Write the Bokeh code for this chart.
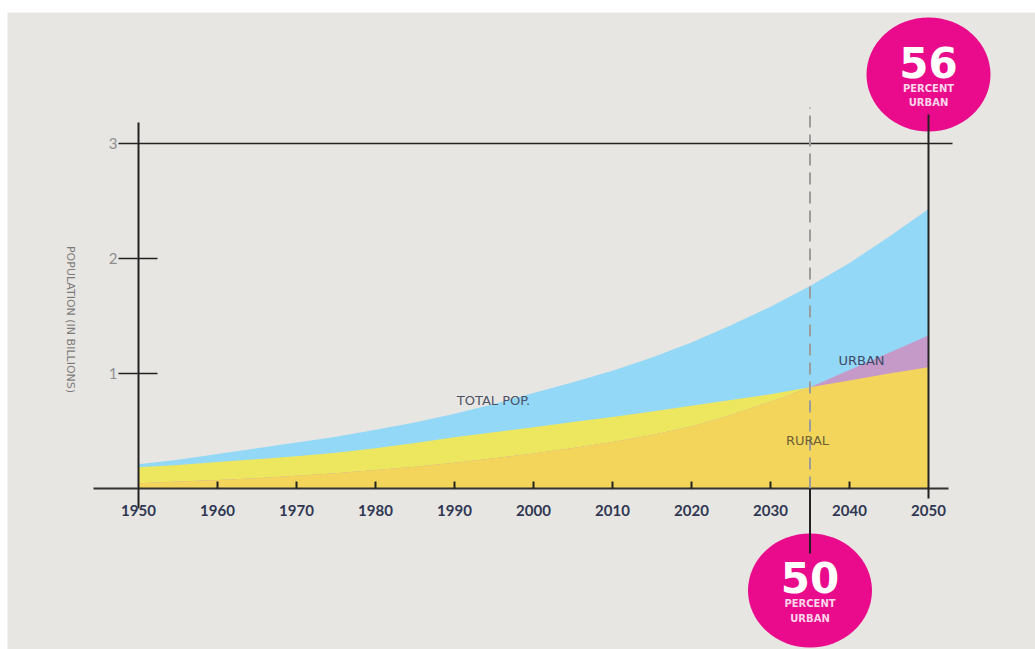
import math
from bokeh.plotting import figure
from bokeh.models import ColumnDataSource
from bokeh.core.properties import value
from bokeh.embed import file_html
from bokeh.resources import INLINE

# ---- data (billions) ----
years = [1950, 1955, 1960, 1965, 1970, 1975, 1980, 1985, 1990, 1995, 2000,
         2005, 2010, 2015, 2020, 2025, 2030, 2035, 2040, 2045, 2050]
total = [0.21, 0.25, 0.30, 0.35, 0.40, 0.45, 0.51, 0.575, 0.65, 0.735, 0.83,
         0.925, 1.025, 1.14, 1.27, 1.42, 1.58, 1.76, 1.96, 2.19, 2.43]
rural = [0.185, 0.205, 0.23, 0.255, 0.28, 0.31, 0.35, 0.395, 0.445, 0.49, 0.533,
         0.578, 0.622, 0.67, 0.72, 0.77, 0.82, 0.88, 0.94, 1.00, 1.055]
urban = [0.045, 0.06, 0.075, 0.09, 0.11, 0.133, 0.16, 0.19, 0.225, 0.262, 0.305,
         0.352, 0.405, 0.465, 0.54, 0.64, 0.755, 0.88, 1.03, 1.18, 1.33]

x_ticks = [1950, 1960, 1970, 1980, 1990, 2000, 2010, 2020, 2030, 2040, 2050]
x_tick_labels = [str(t) for t in x_ticks]
y_ticks = [1, 2, 3]
y_tick_labels = ["1", "2", "3"]

marker_years = [2035, 2050]
marker_pct = ["50", "56"]

# ---- colours ----
BG = "#e8e6e2"
BLUE = "#93d8f6"
YELLOW = "#ede75f"
ORANGE = "#f3d55c"
PINK = "#c69ac8"
MAGENTA = "#ea0a8c"
INK = "#222222"

overlap = [min(u, r) for u, r in zip(urban, rural)]
src = ColumnDataSource(dict(year=years, total=total, rural=rural, urban=urban,
                            overlap=overlap, zero=[0] * len(years)))

# page mapping: 1950 -> x=138, 2050 -> x=928 ; value 0 -> y=488, 115 px / billion
KX = 7.9
KY = 115.0
x0 = 1950 - (138 - 7) / KX
x1 = x0 + 1028 / KX
y1 = (488 - 12) / KY
y0 = y1 - 637 / KY

def yr(px):
    return 1950 + (px - 138) / KX

def vv(py):
    return (488 - py) / KY

p = figure(width=1028, height=637, x_range=(x0, x1), y_range=(y0, y1),
           output_backend="svg", toolbar_location=None, min_border=0,
           x_axis_type=None, y_axis_type=None,
           background_fill_color=BG, border_fill_color=BG, outline_line_color=None)
p.margin = (12, 0, 0, 7)
p.xgrid.visible = False
p.ygrid.visible = False

# ---- areas ----
p.varea(x="year", y1="zero", y2="total", source=src, fill_color=BLUE)
p.varea(x="year", y1="zero", y2="rural", source=src, fill_color=YELLOW)
p.varea(x="year", y1="zero", y2="urban", source=src, fill_color=PINK)
p.varea(x="year", y1="zero", y2="overlap", source=src, fill_color=ORANGE)

# ---- axes drawn by hand ----
p.segment(x0=[yr(118)], y0=[y_ticks[-1]], x1=[yr(952)], y1=[y_ticks[-1]],
          line_color=INK, line_width=1.6)
p.segment(x0=[yr(118)] * 2, y0=y_ticks[:2], x1=[yr(157)] * 2, y1=y_ticks[:2],
          line_color=INK, line_width=1.6)
p.segment(x0=[yr(93)], y0=[0], x1=[yr(948)], y1=[0], line_color="#333333", line_width=2)
inner = x_ticks[1:-1]
p.segment(x0=inner, y0=[0] * len(inner), x1=inner, y1=[7 / KY] * len(inner),
          line_color=INK, line_width=2)
p.segment(x0=[x_ticks[0]], y0=[vv(508)], x1=[x_ticks[0]], y1=[vv(122)],
          line_color=INK, line_width=2)
p.segment(x0=[marker_years[0]], y0=[0], x1=[marker_years[0]], y1=[vv(107)],
          line_color="#9c9c9c", line_width=2, line_dash="12 7")

# ---- markers ----
circ_y = [vv(590), vv(74)]
p.ellipse(x=marker_years, y=circ_y, width=124, height=114,
          width_units="screen", height_units="screen",
          fill_color=MAGENTA, line_color=None)
p.segment(x0=[marker_years[0]], y0=[0], x1=[marker_years[0]], y1=[vv(553)],
          line_color=INK, line_width=2)
p.segment(x0=[marker_years[1]], y0=[vv(498)], x1=[marker_years[1]], y1=[vv(114)],
          line_color=INK, line_width=2)

p.text(x=marker_years, y=[vv(577), vv(62)], text=marker_pct,
       text_font=value("DejaVu Sans"), text_font_style="bold", text_font_size="42px",
       text_color="white", text_align="center", text_baseline="middle")
p.text(x=marker_years, y=[vv(603), vv(88)], text=["PERCENT", "PERCENT"],
       text_font=value("DejaVu Sans"), text_font_style="bold", text_font_size="10px",
       text_color="#fbd6ea", text_align="center", text_baseline="middle")
p.text(x=marker_years, y=[vv(618), vv(102)], text=["URBAN", "URBAN"],
       text_font=value("DejaVu Sans"), text_font_style="bold", text_font_size="10px",
       text_color="#fbd6ea", text_align="center", text_baseline="middle")

# ---- tick labels ----
p.text(x=x_ticks, y=[vv(510)] * len(x_ticks), text=x_tick_labels,
       text_font=value("Lato"), text_font_style="bold", text_font_size="15px",
       text_color="#2f3752", text_align="center", text_baseline="middle")
p.text(x=[yr(117)] * 3, y=y_ticks, text=y_tick_labels,
       text_font=value("Lato"), text_font_size="15px",
       text_color="#8f8f8f", text_align="right", text_baseline="middle")

# axis title
p.text(x=[yr(70)], y=[vv(319)], text=["POPULATION (IN BILLIONS)"], angle=-math.pi / 2,
       text_font=value("DejaVu Sans"), text_font_size="11px",
       text_color="#7a7a7a", text_align="center", text_baseline="middle")

# area labels
p.text(x=[yr(493)], y=[vv(400)], text=["TOTAL POP."],
       text_font=value("DejaVu Sans"), text_font_size="13px",
       text_color="#4d5366", text_align="center", text_baseline="middle")
p.text(x=[yr(861)], y=[vv(360)], text=["URBAN"],
       text_font=value("DejaVu Sans"), text_font_size="13px",
       text_color="#3d4a6a", text_align="center", text_baseline="middle")
p.text(x=[yr(807)], y=[vv(440)], text=["RURAL"],
       text_font=value("DejaVu Sans"), text_font_size="13px",
       text_color="#6e5f35", text_align="center", text_baseline="middle")

open("out.html", "w").write(file_html(p, INLINE))
